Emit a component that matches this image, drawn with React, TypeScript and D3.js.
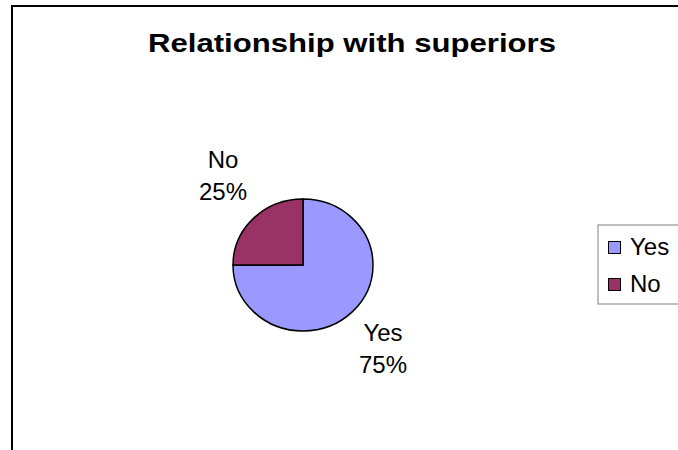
import React from "react";
import * as d3 from "d3";

const categories = ["Yes", "No"];
const values = [75, 25];
const colors = ["#9999FF", "#993366"];
const title = "Relationship with superiors";

export default function App() {
  const W = 678, H = 450;
  const cx = 303, cy = 265, rx = 70, ry = 66;
  const total = d3.sum(values);
  const pie = d3.pie<number>().sort(null).value((d) => d)(values);
  const arc = d3.arc<d3.PieArcDatum<number>>().innerRadius(0).outerRadius(1);
  const font = "Arial, 'Liberation Sans', sans-serif";
  return (
    <svg width={W} height={H} style={{ position: "absolute", left: 0, top: 0, background: "#fff" }}>
      <rect x={12} y={6} width={700} height={480} fill="#fff" stroke="#000" strokeWidth={2} />
      <text x={352} y={52} textAnchor="middle" fontFamily={font} fontWeight="bold" fontSize={26}
        textLength={408} lengthAdjust="spacingAndGlyphs">{title}</text>
      <g transform={`translate(${cx},${cy}) scale(${rx},${ry})`}>
        {pie.map((p, i) => (
          <path key={i} d={arc(p) || ""} fill={colors[i]} stroke="#000" strokeWidth={1.5} vectorEffect="non-scaling-stroke" />
        ))}
      </g>
      {pie.map((p, i) => {
        const a = (p.startAngle + p.endAngle) / 2;
        const lx = cx + Math.sign(Math.sin(a)) * 80;
        const ly = cy - Math.sign(Math.cos(a)) * 86.5 - 2.5;
        return (
          <text key={i} x={lx} textAnchor="middle" fontFamily={font} fontSize={24}>
            <tspan x={lx} y={ly - 8}>{categories[i]}</tspan>
            <tspan x={lx} y={ly + 24}>{`${Math.round((values[i] / total) * 100)}%`}</tspan>
          </text>
        );
      })}
      <rect x={598} y={225} width={100} height={79} fill="#fff" stroke="#808080" strokeWidth={1} />
      {categories.map((c, i) => (
        <g key={c}>
          <rect x={608.5} y={241.5 + i * 37} width={12} height={12} fill={colors[i]} stroke="#000" strokeWidth={1} />
          <text x={630} y={255 + i * 37} fontFamily={font} fontSize={24}>{c}</text>
        </g>
      ))}
    </svg>
  );
}
